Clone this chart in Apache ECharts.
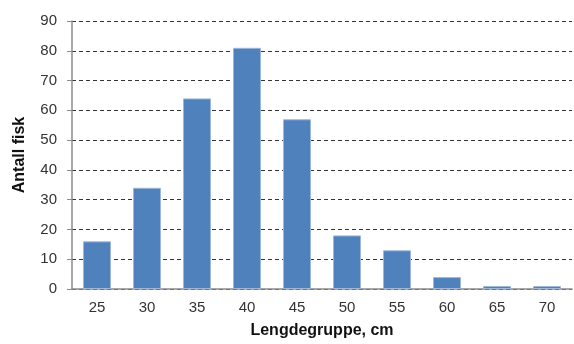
<!DOCTYPE html>
<html>
<head>
<meta charset="utf-8">
<script src="https://cdn.jsdelivr.net/npm/echarts@6/dist/echarts.min.js"></script>
<style>
  html, body { margin: 0; padding: 0; background: #fff; }
  #main { width: 574px; height: 344px; }
</style>
</head>
<body>
<div id="main"></div>
<script>
// lengdegrupper og antall fisk
var categories = ['25', '30', '35', '40', '45', '50', '55', '60', '65', '70'];
var counts = [16, 34, 64, 81, 57, 18, 13, 4, 1, 1];
var yTicks = { min: 0, max: 90, interval: 10 };

var chart = echarts.init(document.getElementById('main'));
var option = {
  animation: false,
  textStyle: { fontFamily: 'Liberation Sans, Arial, sans-serif' },
  grid: { left: 72, right: 2, top: 21, bottom: 53 },
  xAxis: {
    type: 'category',
    data: categories,
    name: 'Lengdegruppe, cm',
    nameLocation: 'middle',
    nameGap: 34,
    nameTextStyle: { fontWeight: 'bold', fontSize: 16, color: '#111' },
    axisLine: { lineStyle: { color: '#8c8c8c', width: 1.5 } },
    axisTick: { show: false },
    axisLabel: { color: '#333', fontSize: 15, margin: 11 }
  },
  yAxis: {
    type: 'value',
    min: yTicks.min,
    max: yTicks.max,
    interval: yTicks.interval,
    name: 'Antall fisk',
    nameLocation: 'middle',
    nameGap: 44,
    nameTextStyle: { fontWeight: 'bold', fontSize: 16, color: '#111' },
    axisLine: { show: true, lineStyle: { color: '#8c8c8c', width: 1.5 } },
    axisTick: { show: true, length: 5, lineStyle: { color: '#8c8c8c' } },
    axisLabel: { color: '#333', fontSize: 15, margin: 15 },
    splitLine: { lineStyle: { color: '#333', type: [4, 3], width: 1 } }
  },
  series: [{
    type: 'bar',
    data: counts,
    barWidth: 28,
    itemStyle: { color: '#4f81bd', borderColor: '#9db7da', borderWidth: 1 }
  }]
};
chart.setOption(option);
</script>
</body>
</html>
